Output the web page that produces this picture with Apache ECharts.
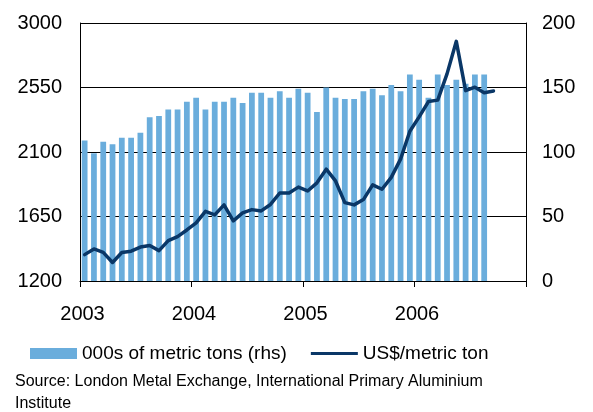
<!DOCTYPE html>
<html>
<head>
<meta charset="utf-8">
<title>Aluminium: price and output</title>
<script src="https://cdn.jsdelivr.net/npm/echarts@6/dist/echarts.min.js"></script>
<style>
  html, body { margin: 0; padding: 0; background: #ffffff; }
  #chart { width: 593px; height: 412px; }
</style>
</head>
<body>
<div id="chart"></div>
<script>
// Monthly periods, Jan 2003 – Dec 2006
const years = ['2003', '2004', '2005', '2006'];
const months = ['01', '02', '03', '04', '05', '06', '07', '08', '09', '10', '11', '12'];
const categories = years.flatMap(y => months.map(m => y + '-' + m));

// Production, 000s of metric tons (right-hand scale)
const tons = [
  109, 99, 108, 106, 111, 111, 115, 127, 128, 133, 133, 139,
  142, 133, 139, 139, 142, 138, 146, 146, 142, 147, 142, 149,
  146, 131, 150, 142, 141, 141, 147, 149, 144, 152, 147, 160,
  156, 142, 160, 152, 156, 153, 160, 160
];

// LME price, US$/metric ton (left-hand scale)
const price = [
  1384, 1424, 1400, 1329, 1399, 1408, 1437, 1448, 1412, 1482, 1510, 1556,
  1606, 1686, 1661, 1731, 1620, 1675, 1698, 1689, 1734, 1814, 1814, 1855,
  1828, 1885, 1980, 1898, 1747, 1731, 1768, 1871, 1840, 1923, 2050, 2245,
  2345, 2452, 2462, 2645, 2872, 2528, 2552, 2514, 2525
];

// Axis tick labels
const leftTicks = [1200, 1650, 2100, 2550, 3000];
const rightTicks = [0, 50, 100, 150, 200];
const yearLabels = years;

const seriesNames = ['000s of metric tons (rhs)', 'US$/metric ton'];
const sourceNote = 'Source: London Metal Exchange, International Primary Aluminium\nInstitute';

const FONT = 'Liberation Sans, Arial, sans-serif';
const BAR_COLOR = '#6aaddc';
const LINE_COLOR = '#0a3767';

const chart = echarts.init(document.getElementById('chart'), null, { renderer: 'canvas' });

chart.setOption({
  animation: false,
  backgroundColor: '#ffffff',
  textStyle: { fontFamily: FONT, color: '#000000' },
  grid: { left: 80, right: 67, top: 23, bottom: 131, containLabel: false },
  legend: {
    data: [
      { name: seriesNames[0], icon: 'rect' },
      { name: seriesNames[1], icon: 'path://M0,0H50V3H0Z', symbolKeepAspect: true }
    ],
    left: 25,
    top: 339,
    itemWidth: 47,
    itemHeight: 11,
    itemGap: 24,
    selectedMode: false,
    textStyle: { fontFamily: FONT, fontSize: 19, color: '#000000' }
  },
  title: {
    text: sourceNote,
    left: 15,
    top: 371,
    padding: 0,
    textStyle: { fontFamily: FONT, fontSize: 16, fontWeight: 'normal', color: '#000000', lineHeight: 22 }
  },
  xAxis: [
    {
      type: 'category',
      data: categories,
      boundaryGap: true,
      axisLine: { show: false },
      axisTick: { show: false },
      axisLabel: { show: false },
      splitLine: { show: false }
    },
    {
      type: 'value',
      min: 0,
      max: categories.length,
      interval: 12,
      position: 'bottom',
      axisLine: { show: true, lineStyle: { color: '#000000', width: 1 } },
      axisTick: { show: true, length: 6, lineStyle: { color: '#000000', width: 1 } },
      axisLabel: {
        fontSize: 20,
        color: '#000000',
        margin: 23,
        padding: [0, 0, 0, 5],
        formatter: v => yearLabels[v / 12] || ''
      },
      splitLine: { show: false }
    }
  ],
  yAxis: [
    {
      type: 'value',
      min: leftTicks[0],
      max: leftTicks[leftTicks.length - 1],
      interval: leftTicks[1] - leftTicks[0],
      position: 'left',
      axisLine: { show: true, lineStyle: { color: '#000000', width: 1 } },
      axisTick: { show: false },
      axisLabel: { fontSize: 20, color: '#000000', margin: 18, formatter: v => String(v) },
      splitLine: { show: true, lineStyle: { color: '#000000', width: 1 } }
    },
    {
      type: 'value',
      min: rightTicks[0],
      max: rightTicks[rightTicks.length - 1],
      interval: rightTicks[1] - rightTicks[0],
      position: 'right',
      axisLine: { show: true, lineStyle: { color: '#000000', width: 1 } },
      axisTick: { show: false },
      axisLabel: { fontSize: 20, color: '#000000', margin: 16, formatter: v => String(v) },
      splitLine: { show: false }
    }
  ],
  series: [
    {
      name: seriesNames[0],
      type: 'bar',
      xAxisIndex: 0,
      yAxisIndex: 1,
      data: tons,
      barWidth: '62%',
      itemStyle: { color: BAR_COLOR },
      z: 2
    },
    {
      name: seriesNames[1],
      type: 'line',
      xAxisIndex: 0,
      yAxisIndex: 0,
      data: price,
      showSymbol: false,
      symbol: 'none',
      lineStyle: { color: LINE_COLOR, width: 3.5, join: 'round', cap: 'round' },
      itemStyle: { color: LINE_COLOR },
      z: 3
    }
  ]
});
</script>
</body>
</html>
